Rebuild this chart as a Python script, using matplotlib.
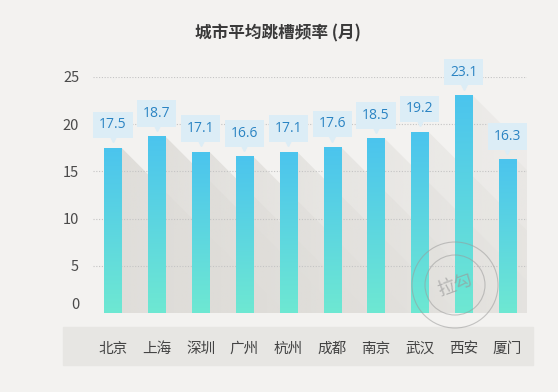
import numpy as np
import matplotlib
matplotlib.use("Agg")
import matplotlib.pyplot as plt
from matplotlib.patches import Polygon, Rectangle, Circle
from matplotlib.transforms import offset_copy, ScaledTranslation
from matplotlib.colors import LinearSegmentedColormap, to_rgb

plt.rcParams['font.family'] = ['Noto Sans CJK SC', 'DejaVu Sans']

cities = ['北京', '上海', '深圳', '广州', '杭州', '成都', '南京', '武汉', '西安', '厦门']
months = [17.5, 18.7, 17.1, 16.6, 17.1, 17.6, 18.5, 19.2, 23.1, 16.3]
y_ticks = [0, 5, 10, 15, 20, 25]

bg = '#f3f2f0'
fig = plt.figure(figsize=(5.58, 3.92), dpi=100, facecolor=bg)
ax = fig.add_axes([93 / 558, 79 / 392, 434 / 558, 236 / 392])
ax.set_facecolor('none')

# gray band behind the city labels
fig.patches.append(Rectangle((63 / 558, 27 / 392), 470 / 558, 38 / 392,
                             transform=fig.transFigure, color='#e7e6e3', zorder=-1))

x = np.arange(len(cities))
width = 0.39
bars = ax.bar(x, months, width=width, facecolor='none', edgecolor='none', zorder=3)
ax.set_xlim(-0.456, 9.445)
ax.set_ylim(0, 25)

# gradient fill, blue top to teal bottom
cmap = LinearSegmentedColormap.from_list('bar', ['#6ee8d2', '#4bc4ee'])
grad = np.linspace(0, 1, 256).reshape(-1, 1)
for b in bars:
    x0, h = b.get_x(), b.get_height()
    im = ax.imshow(grad, extent=[x0, x0 + width, 0, h], origin='lower',
                   cmap=cmap, aspect='auto', zorder=3)
    im.set_clip_path(b)

# long diagonal shadows, fading out to the right
fig.canvas.draw()
inv = ax.transData.inverted()
shade_rgb = to_rgb('#dedcd8')
for i, b in enumerate(bars):
    right, h = b.get_x() + width, b.get_height()
    top = ax.transData.transform((right, h))
    base = ax.transData.transform((right, 0))
    drop = top[1] - base[1]
    corner = inv.transform((base[0] + drop, base[1]))
    poly = Polygon([(right, h), (corner[0], 0), (right, 0)], closed=True,
                   facecolor='none', edgecolor='none')
    ax.add_patch(poly)
    a0 = 0.95 - 0.075 * i
    rgba = np.zeros((1, 128, 4))
    rgba[..., :3] = shade_rgb
    rgba[..., 3] = np.linspace(a0, a0 * 0.15, 128)
    sim = ax.imshow(rgba, extent=[right, corner[0], 0, h], origin='lower',
                    aspect='auto', zorder=1, clip_on=True)
    sim.set_clip_path(poly)

ax.set_xlim(-0.456, 9.445)
ax.set_ylim(0, 25)

# dotted grid, drawn over the shadows
for t in y_ticks[1:]:
    ax.axhline(t, color='#c4c4c4', linestyle=(0, (1, 1.5)), linewidth=0.8, zorder=2)

# value labels in little callout boxes
for i, v in enumerate(months):
    ax.annotate(f'{v}', xy=(i, v), xytext=(0, 16.5), textcoords='offset points',
                ha='center', va='center', fontsize=10, color='#2b84c3',
                family=['Open Sans', 'DejaVu Sans'],
                bbox=dict(boxstyle='square,pad=0.42', fc='#dcedf6', ec='none'),
                zorder=5)
    tr = offset_copy(ax.transData, fig=fig, x=0, y=6, units='points')
    ax.plot(i, v, marker='v', markersize=5, color='#dcedf6', transform=tr,
            zorder=5, clip_on=False)

ax.set_yticks(y_ticks)
ax.set_xticks(x)
ax.set_xticklabels(cities, fontsize=10.5, color='#444444')
ax.tick_params(axis='x', length=0, pad=21)
ax.tick_params(axis='y', length=0, pad=10, labelsize=10.5, labelcolor='#4a4a4a')
for s in ax.spines.values():
    s.set_visible(False)
zero = ax.get_yticklabels()[0]
zero.set_transform(zero.get_transform() + ScaledTranslation(0, 7 / 72, fig.dpi_scale_trans))

fig.text(278 / 558, 1 - 33 / 392, '城市平均跳槽频率 (月)', ha='center', va='center',
         fontsize=12, fontweight='bold', color='#3a3a3a')

# faint stamp watermark
cx, cy = 455 / 558, 1 - 285 / 392
for r in (43, 30):
    fig.patches.append(Circle((455, 392 - 285), r, transform=None, fill=False,
                              ec='#9a9a9a', lw=0.8, alpha=0.55, zorder=6))
fig.text(cx, cy, '拉勾', ha='center', va='center', rotation=20, fontsize=13,
         color='#9a9a9a', alpha=0.65, zorder=6)

fig.savefig('out.png', dpi=100, facecolor=bg)
